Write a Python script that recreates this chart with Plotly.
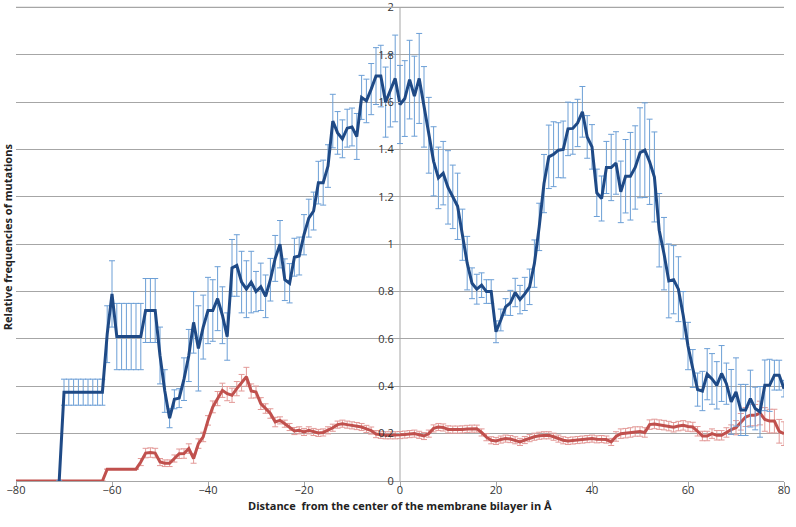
import plotly.graph_objects as go

# ---- Data ----
blue_x = list(range(-71, 81))
blue_y = [
    0, .375, .375, .375, .375, .375, .375, .375, .375, .375,
    .62, .79, .61, .61, .61, .61, .61, .61, .72, .72,
    .72, .53, .38, .265, .345, .35, .43, .53, .67, .56,
    .65, .72, .72, .77, .70, .61, .90, .91, .84, .81,
    .84, .80, .82, .78, .85, .94, 1.00, .85, .835, .945,
    .95, 1.04, 1.11, 1.14, 1.26, 1.26, 1.33, 1.52, 1.47, 1.445,
    1.49, 1.495, 1.455, 1.62, 1.605, 1.655, 1.71, 1.71, 1.60, 1.65,
    1.70, 1.59, 1.615, 1.695, 1.625, 1.70, 1.58, 1.46, 1.35, 1.28,
    1.30, 1.24, 1.20, 1.16, 1.04, .92, .835, .81, .827, .80,
    .80, .63, .68, .735, .752, .796, .766, .79, .82, .918,
    1.073, 1.256, 1.369, 1.38, 1.397, 1.40, 1.487, 1.489, 1.512, 1.559,
    1.453, 1.411, 1.217, 1.193, 1.324, 1.324, 1.343, 1.221, 1.287, 1.287,
    1.324, 1.386, 1.397, 1.348, 1.284, 1.059, .96, .845, .85, .81,
    .70, .57, .475, .386, .38, .451, .431, .404, .454, .411,
    .334, .376, .30, .30, .348, .306, .292, .404, .404, .447,
    .447, .39,
]
blue_err = [
    0, .055, .055, .055, .055, .055, .055, .055, .055, .055,
    .12, .14, .14, .14, .14, .14, .14, .14, .135, .135,
    .135, .12, .09, .04, .04, .04, .09, .11, .13, .18,
    .135, .14, .13, .135, .12, .10, .12, .13, .13, .12,
    .13, .085, .10, .09, .09, .097, .10, .088, .083, .08,
    .08, .085, .08, .08, .09, .095, .09, .113, .09, .08,
    .08, .08, .097, .093, .092, .108, .12, .13, .148, .155,
    .183, .165, .16, .166, .169, .19, .17, .16, .146, .13,
    .134, .155, .134, .14, .108, .113, .065, .063, .052, .05,
    .05, .046, .046, .035, .053, .06, .06, .07, .075, .10,
    .10, .123, .134, .137, .116, .12, .113, .109, .10, .107,
    .09, .094, .10, .095, .11, .14, .132, .13, .155, .185,
    .176, .19, .20, .18, .19, .155, .153, .156, .144, .137,
    .10, .10, .08, .07, .083, .108, .107, .10, .118, .087,
    .137, .144, .108, .108, .12, .09, .107, .107, .11, .063,
    .063, .035,
]

red_x = list(range(-80, 81))
red_y = [
    0, 0, 0, 0, 0, 0, 0, 0, 0, 0,
    0, 0, 0, 0, 0, 0, 0, 0, 0, .05,
    .05, .05, .05, .05, .05, .05, .08, .118, .12, .118,
    .08, .075, .075, .095, .115, .116, .137, .095, .158, .186,
    .256, .313, .348, .383, .369, .362, .39, .415, .44, .38,
    .376, .327, .306, .285, .249, .256, .242, .228, .211, .214,
    .207, .214, .207, .203, .205, .214, .225, .238, .242, .238,
    .235, .232, .228, .22, .213, .198, .195, .193, .193, .193,
    .194, .196, .198, .20, .195, .19, .20, .222, .228, .226,
    .218, .217, .217, .218, .22, .221, .221, .205, .185, .172,
    .169, .175, .179, .177, .172, .165, .173, .181, .187, .191,
    .193, .193, .187, .179, .172, .169, .171, .173, .175, .177,
    .179, .176, .177, .175, .165, .188, .20, .202, .205, .209,
    .209, .205, .238, .241, .238, .236, .232, .227, .232, .235,
    .23, .228, .21, .19, .19, .20, .193, .193, .205, .217,
    .225, .25, .27, .278, .278, .287, .26, .253, .253, .21,
    .20,
]
red_err = [
    0, 0, 0, 0, 0, 0, 0, 0, 0, 0,
    0, 0, 0, 0, 0, 0, 0, 0, 0, 0,
    0, 0, 0, 0, 0, 0, .015, .02, .02, .02,
    .015, .014, .014, .015, .02, .02, .02, .02, .02, .02,
    .02, .025, .03, .03, .03, .03, .03, .035, .04, .03,
    .025, .025, .02, .02, .02, .015, .015, .015, .015, .015,
    .015, .015, .015, .015, .015, .015, .015, .015, .015, .015,
    .015, .015, .015, .015, .015, .015, .015, .015, .015, .015,
    .015, .015, .015, .015, .015, .015, .015, .015, .015, .015,
    .015, .015, .015, .015, .015, .015, .015, .015, .015, .015,
    .015, .015, .015, .015, .015, .015, .015, .015, .015, .015,
    .015, .015, .015, .015, .015, .015, .015, .015, .015, .015,
    .015, .015, .015, .015, .015, .02, .02, .02, .02, .02,
    .02, .02, .02, .02, .02, .02, .02, .02, .02, .02,
    .02, .02, .02, .02, .02, .02, .02, .02, .02, .02,
    .03, .035, .04, .045, .045, .05, .05, .05, .05, .05,
    .05,
]

x_ticks = [-80, -60, -40, -20, 0, 20, 40, 60, 80]
y_ticks = [0, 0.2, 0.4, 0.6, 0.8, 1, 1.2, 1.4, 1.6, 1.8, 2]
y_ticktext = ["0", "0.2", "0.4", "0.6", "0.8", "1", "1.2", "1.4", "1.6", "1.8", "2"]
x_title = "Distance  from the center of the membrane bilayer in Å"
y_title = "Relative frequencies of mutations"

FONT = "Open Sans, Liberation Sans, sans-serif"
GRID = "#a6a6a6"

fig = go.Figure()
fig.add_trace(go.Scatter(
    x=red_x, y=red_y, mode="lines",
    line=dict(color="#c0504d", width=3),
    error_y=dict(type="data", array=red_err, visible=True,
                 color="#e39a98", thickness=1, width=3),
    hoverinfo="skip",
))
fig.add_trace(go.Scatter(
    x=blue_x, y=blue_y, mode="lines",
    line=dict(color="#1f4a86", width=3),
    error_y=dict(type="data", array=blue_err, visible=True,
                 color="#6c9fd6", thickness=1, width=3),
    hoverinfo="skip",
))

fig.update_layout(
    width=796, height=527,
    margin=dict(l=16, r=12, t=1, b=46),
    plot_bgcolor="white", paper_bgcolor="white",
    showlegend=False,
    font=dict(family=FONT, size=11, color="#333333"),
    xaxis=dict(
        range=[-80, 80], tickvals=x_ticks, showgrid=False, zeroline=False,
        showline=True, linecolor=GRID, linewidth=1,
        ticks="outside", ticklen=5, tickcolor=GRID,
        ticklabelstandoff=-6,
        tickfont=dict(size=11, color="#333333"), automargin=False,
    ),
    yaxis=dict(
        range=[0, 2.027], tickvals=y_ticks, ticktext=y_ticktext, showgrid=True,
        gridcolor=GRID, gridwidth=1, zeroline=False,
        showline=False,
        anchor="free", position=0.5,
        ticks="outside", ticklen=4, tickcolor=GRID,
        ticklabeloverflow="allow",
        tickfont=dict(size=11, color="#333333"), automargin=False,
    ),
    shapes=[
        dict(type="line", xref="x", yref="y", x0=0, x1=0,
             y0=y_ticks[0], y1=y_ticks[-1], layer="below",
             line=dict(color=GRID, width=1)),
        dict(type="line", xref="x", yref="y", x0=x_ticks[0], x1=x_ticks[-1],
             y0=y_ticks[-1], y1=y_ticks[-1], layer="above",
             line=dict(color=GRID, width=1.2)),
    ],
    annotations=[
        dict(text="<b>" + x_title + "</b>", xref="paper", yref="paper",
             x=0.5, y=-0.0506, xanchor="center", yanchor="middle",
             showarrow=False, font=dict(size=11, color="#222222")),
        dict(text="<b>" + y_title + "</b>", xref="paper", yref="paper",
             x=-0.0117, y=0.508, xanchor="center", yanchor="middle",
             textangle=-90, showarrow=False,
             font=dict(size=11, color="#222222")),
    ],
)

fig.write_html("out.html",
               config={"displayModeBar": False},
               post_script="document.body.style.margin='0';document.body.style.overflow='hidden';")
